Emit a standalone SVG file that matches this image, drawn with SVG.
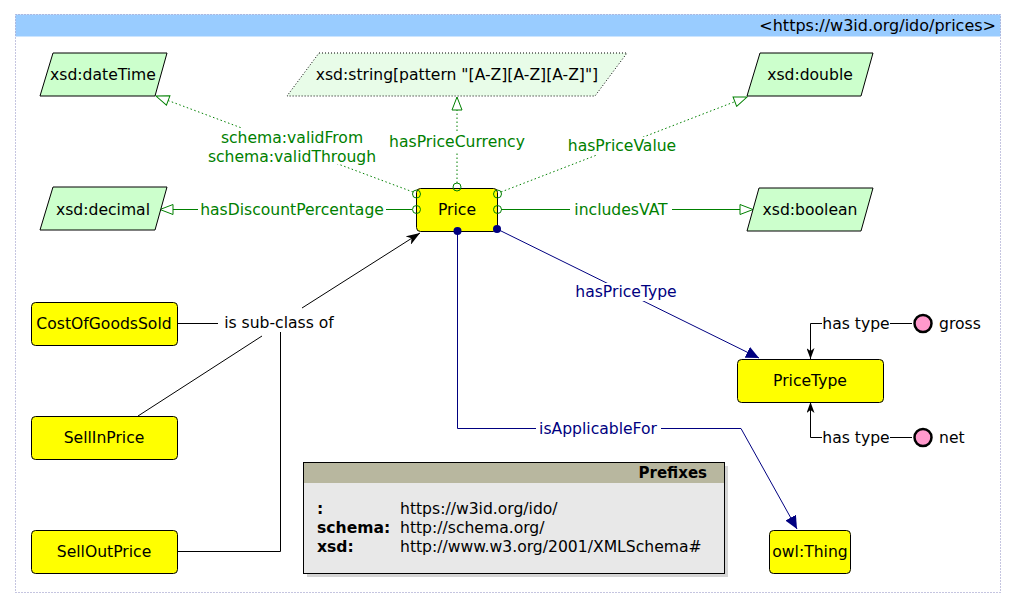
<svg xmlns="http://www.w3.org/2000/svg" width="1014" height="608" viewBox="0 0 1014 608">
<style>
text{font-family:"DejaVu Sans","Liberation Sans",sans-serif;font-size:15.6px}
.cls{fill:#ffff00;stroke:#000;stroke-width:1}
.dt{fill:#ccffcc;stroke:#000;stroke-width:1}
.dtd{fill:#e8fce8;stroke:#000;stroke-width:1;stroke-dasharray:1,2}
.c{text-anchor:middle}
.g{fill:#008000}
.n{fill:#000080}
.gl{stroke:#008000;stroke-width:1;fill:none}
.gd{stroke:#008000;stroke-width:1;fill:none;stroke-dasharray:1.5,2.5}
.nl{stroke:#000080;stroke-width:1;fill:none}
.bl{stroke:#000;stroke-width:1;fill:none}
.bg{fill:#fff}
</style>
<defs>
<marker id="gOpen" markerUnits="userSpaceOnUse" viewBox="-1 -1 15 12" markerWidth="15" markerHeight="12" refX="13" refY="5" orient="auto">
<path d="M0,0 L13,5 L0,10 z" fill="#fff" stroke="#008000" stroke-width="1"/>
</marker>
<marker id="nFill" markerUnits="userSpaceOnUse" viewBox="0 0 13 12" markerWidth="13" markerHeight="12" refX="13" refY="6" orient="auto">
<path d="M0,0 L13,6 L0,12 z" fill="#000080"/>
</marker>
<marker id="bArr" markerUnits="userSpaceOnUse" viewBox="0 0 14 10" markerWidth="14" markerHeight="10" refX="14" refY="5" orient="auto">
<path d="M0,0 L14,5 L0,10 L4,5 z" fill="#000"/>
</marker>
<marker id="bSm" markerUnits="userSpaceOnUse" viewBox="0 0 11 8" markerWidth="11" markerHeight="8" refX="11" refY="4" orient="auto">
<path d="M0,0 L11,4 L0,8 L3,4 z" fill="#000"/>
</marker>
</defs>
<rect width="1014" height="608" fill="#fff"/>
<g id="frame">
<rect x="15.5" y="14.5" width="985" height="22" fill="#99ccff"/>
<rect x="15.5" y="14.5" width="985" height="578" fill="none" stroke="#8a8ac0" stroke-width="1" stroke-dasharray="1,2"/>
<text x="996" y="31" text-anchor="end" style="font-size:16px">&lt;https://w3id.org/ido/prices&gt;</text>
</g>
<g id="connectors">
<line class="gd" x1="413" y1="192" x2="156" y2="96" marker-end="url(#gOpen)"/>
<line class="gd" x1="457" y1="183" x2="457" y2="97" marker-end="url(#gOpen)"/>
<line class="gd" x1="501" y1="192" x2="747" y2="97" marker-end="url(#gOpen)"/>
<line class="gl" x1="412" y1="209.5" x2="160" y2="209.5" marker-end="url(#gOpen)"/>
<line class="gl" x1="501" y1="209.5" x2="753" y2="209.5" marker-end="url(#gOpen)"/>
<line class="nl" x1="497" y1="229" x2="759" y2="358" marker-end="url(#nFill)"/>
<polyline class="nl" points="457.5,231 457.5,428.5 741,428.5 797,529" marker-end="url(#nFill)"/>
<line class="bl" x1="177" y1="323.5" x2="218" y2="323.5"/>
<line class="bl" x1="138" y1="416" x2="262" y2="336"/>
<polyline class="bl" points="177,551.5 280.5,551.5 280.5,332"/>
<line class="bl" x1="302" y1="308" x2="420" y2="233" stroke-width="1.5" marker-end="url(#bArr)"/>
<polyline class="bl" points="912,323.5 810.5,323.5 810.5,359" marker-end="url(#bSm)"/>
<polyline class="bl" points="912,437.5 810.5,437.5 810.5,402" marker-end="url(#bSm)"/>
<rect class="bg" x="204" y="128" width="176" height="36"/>
<rect class="bg" x="386" y="133" width="142" height="18"/>
<rect class="bg" x="564" y="137" width="116" height="18"/>
<rect class="bg" x="198" y="200" width="188" height="18"/>
<rect class="bg" x="570" y="200" width="102" height="18"/>
<rect class="bg" x="567" y="283" width="118" height="18"/>
<rect class="bg" x="536" y="419" width="125" height="18"/>
<rect class="bg" x="219" y="312" width="120" height="20"/>
<rect class="bg" x="822" y="314" width="68" height="18"/>
<rect class="bg" x="822" y="428" width="68" height="18"/>
<text class="c g" x="292" y="143">schema:validFrom</text>
<text class="c g" x="292" y="162">schema:validThrough</text>
<text class="c g" x="457" y="147">hasPriceCurrency</text>
<text class="c g" x="622" y="151">hasPriceValue</text>
<text class="c g" x="292" y="215">hasDiscountPercentage</text>
<text class="c g" x="621" y="215">includesVAT</text>
<text class="c n" x="626" y="297">hasPriceType</text>
<text class="c n" x="598" y="434">isApplicableFor</text>
<text class="c" x="279" y="328">is sub-class of</text>
<text class="c" x="856" y="329">has type</text>
<text class="c" x="856" y="443">has type</text>
</g>
<g id="n-dateTime"><polygon class="dt" points="53,53 167,53 155,96 40,96"/><text class="c" x="103" y="80">xsd:dateTime</text></g>
<g id="n-string"><polygon class="dtd" points="319,53 627,53 595,96 287,96"/><text class="c" x="457" y="80">xsd:string[pattern "[A-Z][A-Z][A-Z]"]</text></g>
<g id="n-double"><polygon class="dt" points="760,53 873,53 861,96 747,96"/><text class="c" x="810" y="80">xsd:double</text></g>
<g id="n-decimal"><polygon class="dt" points="53,187 167,187 155,230 40,230"/><text class="c" x="103" y="215">xsd:decimal</text></g>
<g id="n-boolean"><polygon class="dt" points="759,188 873,188 861,231 747,231"/><text class="c" x="810" y="215">xsd:boolean</text></g>
<g id="n-Price">
<rect class="cls" x="416.5" y="188.5" width="81" height="43" rx="4"/>
<text class="c" x="457" y="215">Price</text>
<g fill="none" stroke="#008000" stroke-width="1">
<circle cx="457" cy="187" r="4"/>
<circle cx="416.5" cy="194" r="4"/>
<circle cx="416.5" cy="209.5" r="4"/>
<circle cx="497.5" cy="194" r="4"/>
<circle cx="497.5" cy="209.5" r="4"/>
</g>
<circle cx="457.5" cy="231" r="4" fill="#000080"/>
<circle cx="497" cy="229" r="4" fill="#000080"/>
</g>
<g id="n-CostOfGoodsSold"><rect class="cls" x="31.5" y="302.5" width="146" height="43" rx="4"/><text class="c" x="104" y="329">CostOfGoodsSold</text></g>
<g id="n-SellInPrice"><rect class="cls" x="31.5" y="416.5" width="146" height="43" rx="4"/><text class="c" x="104" y="443">SellInPrice</text></g>
<g id="n-SellOutPrice"><rect class="cls" x="31.5" y="530.5" width="146" height="43" rx="4"/><text class="c" x="104" y="557">SellOutPrice</text></g>
<g id="n-PriceType"><rect class="cls" x="737.5" y="359.5" width="146" height="43" rx="4"/><text class="c" x="810" y="386">PriceType</text></g>
<g id="n-owlThing"><rect class="cls" x="769.5" y="530.5" width="81" height="43" rx="4"/><text class="c" x="810" y="557">owl:Thing</text></g>
<g id="n-gross"><circle cx="923" cy="323.5" r="8.5" fill="#ff99cc" stroke="#000" stroke-width="2.5"/><text x="939" y="329">gross</text></g>
<g id="n-net"><circle cx="923" cy="437.5" r="8.5" fill="#ff99cc" stroke="#000" stroke-width="2.5"/><text x="939" y="443">net</text></g>
<g id="prefixes">
<rect x="307" y="466" width="421" height="111" fill="#d4d4d4"/>
<rect x="303.5" y="462.5" width="421" height="111" fill="#e8e8e8" stroke="#000" stroke-width="1"/>
<rect x="304" y="463" width="420" height="20" fill="#b8b79f"/>
<text x="707" y="478" text-anchor="end" style="font-weight:bold;font-size:15px">Prefixes</text>
<g style="font-size:15.8px">
<text x="317" y="514" style="font-weight:bold">:</text>
<text x="400" y="514">https://w3id.org/ido/</text>
<text x="317" y="533" style="font-weight:bold">schema:</text>
<text x="400" y="533">http://schema.org/</text>
<text x="317" y="552" style="font-weight:bold">xsd:</text>
<text x="400" y="552">http://www.w3.org/2001/XMLSchema#</text>
</g>
</g>
</svg>
